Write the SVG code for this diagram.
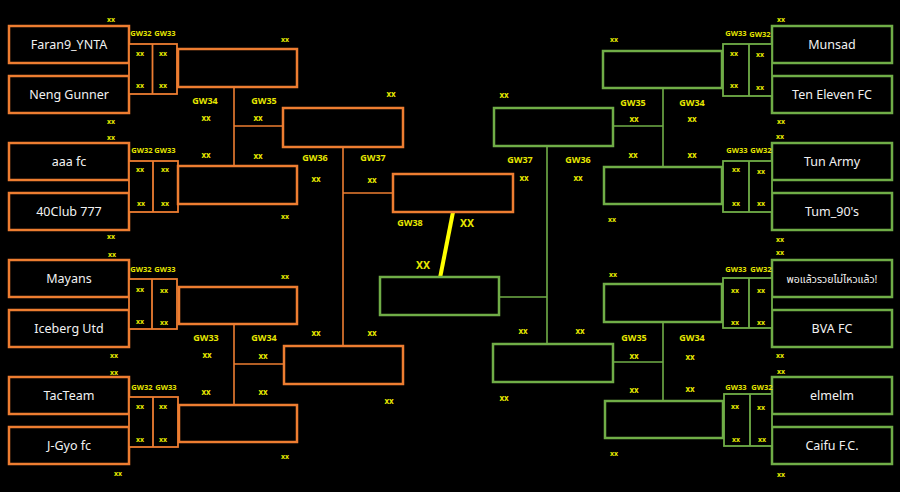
<svg xmlns="http://www.w3.org/2000/svg" width="900" height="492" viewBox="0 0 900 492">
<style>
.bg{fill:#000}
.to{fill:#000;stroke:#ED7D31;stroke-width:2.5}
.tg{fill:#000;stroke:#70AD47;stroke-width:2.5}
.so{fill:#000;stroke:#ED7D31;stroke-width:1.8}
.sg{fill:#000;stroke:#70AD47;stroke-width:1.8}
.co{fill:none;stroke:#ED7D31;stroke-width:1.6}
.cg{fill:none;stroke:#70AD47;stroke-width:1.6}
.team{font-family:"Noto Sans","Open Sans",sans-serif;font-size:12.5px;fill:#F2F2F2;text-anchor:middle;dominant-baseline:central}
.thai{font-family:"Noto Sans","Noto Sans Thai","DejaVu Sans",sans-serif;font-size:10.5px;fill:#F2F2F2;text-anchor:middle;dominant-baseline:central}
.x{font-family:"Noto Sans",sans-serif;font-size:7px;font-weight:bold;fill:#E6E600;text-anchor:middle;dominant-baseline:central}
.gs{font-family:"Noto Sans",sans-serif;font-size:7.5px;font-weight:bold;fill:#E6E600;text-anchor:middle;dominant-baseline:central}
.gm{font-family:"Noto Sans",sans-serif;font-size:9px;font-weight:bold;fill:#E6E600;text-anchor:middle;dominant-baseline:central}
.xm{font-family:"Noto Sans",sans-serif;font-size:8px;font-weight:bold;fill:#E6E600;text-anchor:middle;dominant-baseline:central}
.xl{font-family:"Noto Sans",sans-serif;font-size:10.5px;font-weight:bold;fill:#E6E600;text-anchor:middle;dominant-baseline:central}
</style>
<rect class="bg" x="0" y="0" width="900" height="492"/>

<g id="connectors">
<path class="co" d="M234 87V166M234 126H283M234 324V405M234 364H284M343 147V346M343 193H393"/>
<path class="cg" d="M663 88V167M663 126H613M663 322V401M663 362H613M547 146V344M547 297H499"/>
<path d="M453 212L440 278" stroke="#FFFF00" stroke-width="4" fill="none"/>
</g>

<!-- left teams -->
<g id="t-faran"><rect class="to" x="9" y="26" width="120" height="37"/><text class="team" x="69" y="44.5">Faran9_YNTA</text></g>
<g id="t-neng"><rect class="to" x="9" y="76" width="120" height="37"/><text class="team" x="69" y="94.5">Neng Gunner</text></g>
<g id="t-aaa"><rect class="to" x="9" y="143" width="120" height="37"/><text class="team" x="69" y="161.5">aaa fc</text></g>
<g id="t-40club"><rect class="to" x="9" y="193" width="120" height="37"/><text class="team" x="69" y="211.5">40Club 777</text></g>
<g id="t-mayans"><rect class="to" x="9" y="260" width="120" height="37"/><text class="team" x="69" y="278.5">Mayans</text></g>
<g id="t-iceberg"><rect class="to" x="9" y="310" width="120" height="37"/><text class="team" x="69" y="328.5">Iceberg Utd</text></g>
<g id="t-tacteam"><rect class="to" x="9" y="377" width="120" height="37"/><text class="team" x="69" y="395.5">TacTeam</text></g>
<g id="t-jgyo"><rect class="to" x="9" y="427" width="120" height="37"/><text class="team" x="69" y="445.5">J-Gyo fc</text></g>

<!-- right teams -->
<g id="t-munsad"><rect class="tg" x="772" y="26" width="120" height="37"/><text class="team" x="832" y="44.5">Munsad</text></g>
<g id="t-teneleven"><rect class="tg" x="772" y="76" width="120" height="37"/><text class="team" x="832" y="94.5">Ten Eleven FC</text></g>
<g id="t-tunarmy"><rect class="tg" x="772" y="143" width="120" height="37"/><text class="team" x="832" y="161.5">Tun Army</text></g>
<g id="t-tum90"><rect class="tg" x="772" y="193" width="120" height="37"/><text class="team" x="832" y="211.5">Tum_90's</text></g>
<g id="t-thai"><rect class="tg" x="772" y="260" width="120" height="37"/><text class="thai" x="832" y="278.5">พอแล้วรวยไม่ไหวแล้ว!</text></g>
<g id="t-bva"><rect class="tg" x="772" y="310" width="120" height="37"/><text class="team" x="832" y="328.5">BVA FC</text></g>
<g id="t-elmelm"><rect class="tg" x="772" y="377" width="120" height="37"/><text class="team" x="832" y="395.5">elmelm</text></g>
<g id="t-caifu"><rect class="tg" x="772" y="427" width="120" height="37"/><text class="team" x="832" y="445.5">Caifu F.C.</text></g>

<!-- left score pairs -->
<g id="s-l1"><rect class="so" x="129" y="44" width="48" height="50"/><path class="so" d="M152.5 44V94"/>
<text class="x" x="140" y="53">xx</text><text class="x" x="163" y="53">xx</text><text class="x" x="140" y="85">xx</text><text class="x" x="163" y="85">xx</text></g>
<g id="s-l2"><rect class="so" x="129" y="161" width="49" height="51"/><path class="so" d="M153 161V212"/>
<text class="x" x="140" y="169">xx</text><text class="x" x="165" y="169">xx</text><text class="x" x="141" y="203">xx</text><text class="x" x="165" y="203">xx</text></g>
<g id="s-l3"><rect class="so" x="129" y="279" width="48" height="50"/><path class="so" d="M152 279V329"/>
<text class="x" x="140" y="289">xx</text><text class="x" x="164" y="290">xx</text><text class="x" x="140" y="321">xx</text><text class="x" x="164" y="322">xx</text></g>
<g id="s-l4"><rect class="so" x="129" y="397" width="49" height="50"/><path class="so" d="M153 397V447"/>
<text class="x" x="140" y="406">xx</text><text class="x" x="163" y="406">xx</text><text class="x" x="140" y="439">xx</text><text class="x" x="163" y="439">xx</text></g>

<!-- right score pairs -->
<g id="s-r1"><rect class="sg" x="723" y="44" width="49" height="52"/><path class="sg" d="M749 44V96"/>
<text class="x" x="734" y="53">xx</text><text class="x" x="760" y="54">xx</text><text class="x" x="734" y="85">xx</text><text class="x" x="760" y="87">xx</text></g>
<g id="s-r2"><rect class="sg" x="723" y="161" width="49" height="51"/><path class="sg" d="M749 161V212"/>
<text class="x" x="736" y="169">xx</text><text class="x" x="761" y="171">xx</text><text class="x" x="736" y="203">xx</text><text class="x" x="761" y="203">xx</text></g>
<g id="s-r3"><rect class="sg" x="723" y="278" width="49" height="50"/><path class="sg" d="M749 278V328"/>
<text class="x" x="735" y="290">xx</text><text class="x" x="761" y="290">xx</text><text class="x" x="735" y="322">xx</text><text class="x" x="761" y="322">xx</text></g>
<g id="s-r4"><rect class="sg" x="724" y="394" width="48" height="52"/><path class="sg" d="M750 394V446"/>
<text class="x" x="735" y="406">xx</text><text class="x" x="761" y="407">xx</text><text class="x" x="736" y="439">xx</text><text class="x" x="762" y="439">xx</text></g>

<!-- round boxes left -->
<g id="r-l1"><rect class="to" x="178" y="49" width="119" height="38"/></g>
<g id="r-l2"><rect class="to" x="178" y="166" width="119" height="38"/></g>
<g id="r-l3"><rect class="to" x="179" y="287" width="118" height="37"/></g>
<g id="r-l4"><rect class="to" x="179" y="405" width="118" height="37"/></g>
<g id="q-l1"><rect class="to" x="283" y="108" width="120" height="39"/></g>
<g id="q-l2"><rect class="to" x="284" y="346" width="119" height="38"/></g>
<g id="sf-l"><rect class="to" x="393" y="174" width="120" height="38"/></g>
<!-- round boxes right -->
<g id="r-r1"><rect class="tg" x="603" y="51" width="119" height="37"/></g>
<g id="r-r2"><rect class="tg" x="604" y="167" width="118" height="37"/></g>
<g id="r-r3"><rect class="tg" x="604" y="284" width="118" height="38"/></g>
<g id="r-r4"><rect class="tg" x="605" y="401" width="118" height="37"/></g>
<g id="q-r1"><rect class="tg" x="494" y="108" width="119" height="38"/></g>
<g id="q-r2"><rect class="tg" x="493" y="344" width="120" height="38"/></g>
<g id="f-r"><rect class="tg" x="380" y="277" width="119" height="38"/></g>

<g id="labels">
<!-- left top -->
<text class="x" x="111" y="19">xx</text><text class="gs" x="141" y="33">GW32</text><text class="gs" x="165" y="33">GW33</text><text class="x" x="285" y="39">xx</text>
<text class="x" x="111" y="121">xx</text>
<text class="gm" x="205" y="100">GW34</text><text class="xm" x="206" y="117">xx</text><text class="gm" x="264" y="100">GW35</text><text class="xm" x="258" y="117">xx</text>
<text class="x" x="111" y="137">xx</text><text class="gs" x="142" y="150">GW32</text><text class="gs" x="165" y="150">GW33</text>
<text class="xm" x="206" y="154">xx</text><text class="xm" x="258" y="155">xx</text>
<text class="x" x="285" y="216">xx</text><text class="x" x="111" y="236">xx</text>
<text class="gm" x="315" y="157">GW36</text><text class="xm" x="316" y="178">xx</text><text class="gm" x="373" y="157">GW37</text><text class="xm" x="372" y="179">xx</text>
<text class="xm" x="391" y="93">xx</text>
<!-- left bottom -->
<text class="x" x="112" y="254">xx</text><text class="gs" x="141" y="269">GW32</text><text class="gs" x="165" y="269">GW33</text><text class="x" x="285" y="276">xx</text>
<text class="x" x="114" y="355">xx</text>
<text class="gm" x="206" y="337">GW33</text><text class="xm" x="207" y="354">xx</text><text class="gm" x="264" y="337">GW34</text><text class="xm" x="263" y="355">xx</text>
<text class="xm" x="316" y="332">xx</text><text class="xm" x="372" y="332">xx</text>
<text class="x" x="114" y="372">xx</text><text class="gs" x="142" y="387">GW32</text><text class="gs" x="166" y="387">GW33</text>
<text class="xm" x="206" y="391">xx</text><text class="xm" x="263" y="391">xx</text>
<text class="x" x="285" y="456">xx</text><text class="x" x="118" y="473">xx</text><text class="xm" x="389" y="400">xx</text>
<!-- center -->
<text class="gm" x="410" y="222">GW38</text><text class="xl" x="467" y="223">XX</text><text class="xl" x="423" y="265">XX</text>
<text class="xm" x="504" y="94">xx</text>
<text class="gm" x="520" y="159">GW37</text><text class="xm" x="524" y="177">xx</text><text class="gm" x="578" y="159">GW36</text><text class="xm" x="578" y="177">xx</text>
<text class="xm" x="523" y="330">xx</text><text class="xm" x="580" y="330">xx</text><text class="xm" x="504" y="397">xx</text>
<!-- right top -->
<text class="x" x="781" y="19">xx</text><text class="gs" x="736" y="33">GW33</text><text class="gs" x="760" y="34">GW32</text><text class="x" x="614" y="39">xx</text>
<text class="gm" x="633" y="102">GW35</text><text class="xm" x="634" y="118">xx</text><text class="gm" x="692" y="102">GW34</text><text class="xm" x="692" y="118">xx</text>
<text class="x" x="781" y="121">xx</text><text class="x" x="780" y="136">xx</text>
<text class="gs" x="737" y="150">GW33</text><text class="gs" x="761" y="150">GW32</text>
<text class="xm" x="633" y="154">xx</text><text class="xm" x="692" y="154">xx</text>
<text class="x" x="612" y="219">xx</text><text class="x" x="780" y="239">xx</text>
<!-- right bottom -->
<text class="x" x="780" y="252">xx</text><text class="gs" x="736" y="269">GW33</text><text class="gs" x="761" y="269">GW32</text><text class="x" x="613" y="274">xx</text>
<text class="gm" x="634" y="337">GW35</text><text class="xm" x="634" y="355">xx</text><text class="gm" x="692" y="337">GW34</text><text class="xm" x="690" y="356">xx</text>
<text class="x" x="780" y="355">xx</text><text class="x" x="781" y="371">xx</text>
<text class="gs" x="736" y="387">GW33</text><text class="gs" x="762" y="387">GW32</text>
<text class="xm" x="634" y="389">xx</text><text class="xm" x="690" y="388">xx</text>
<text class="x" x="614" y="453">xx</text><text class="x" x="781" y="474">xx</text>
</g>
</svg>
